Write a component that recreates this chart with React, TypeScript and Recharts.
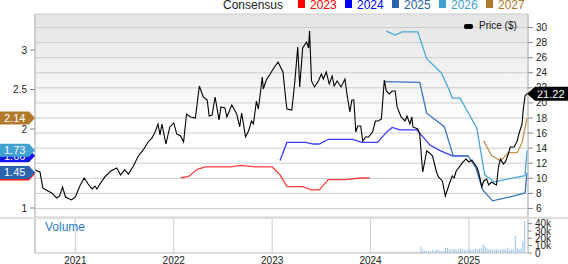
import { Bar, CartesianGrid, ComposedChart, Line, ReferenceDot, XAxis, YAxis } from "recharts";

const FONT = '"Liberation Sans", Arial, sans-serif';
const GRID = "#cccccc";
const AXIS = "#bbbbbb";

const YEARS = [2021, 2022, 2023, 2024, 2025];
const X_DOMAIN: [number, number] = [2020.59, 2025.6];
const EPS_DOMAIN: [number, number] = [0.886, 3.456];
const PRICE_DOMAIN: [number, number] = [4.87, 31.79];
const EPS_TICKS = [1, 2, 2.5, 3];
const PRICE_TICKS = [6, 8, 10, 12, 14, 16, 18, 20, 22, 24, 26, 28, 30];
const VOL_TICKS = [0, 10, 20, 30, 40];

// weekly close, decimal years
const PRICE_T = [
  2020.59, 2020.64, 2020.67, 2020.72, 2020.76, 2020.81, 2020.84, 2020.87, 2020.9, 2020.96,
  2021.0, 2021.05, 2021.09, 2021.13, 2021.17, 2021.2, 2021.22, 2021.25, 2021.3, 2021.36,
  2021.42, 2021.46, 2021.5, 2021.54, 2021.59, 2021.64, 2021.69, 2021.74, 2021.78, 2021.81,
  2021.84, 2021.86, 2021.88, 2021.92, 2021.96, 2022.0, 2022.03, 2022.07, 2022.1, 2022.13,
  2022.17, 2022.22, 2022.26, 2022.3, 2022.34, 2022.36, 2022.39, 2022.42, 2022.46, 2022.48,
  2022.52, 2022.54, 2022.59, 2022.64, 2022.67, 2022.69, 2022.73, 2022.76, 2022.79, 2022.81,
  2022.84, 2022.86, 2022.9, 2022.91, 2022.94, 2022.98, 2023.01, 2023.06, 2023.11, 2023.14,
  2023.15, 2023.2, 2023.23, 2023.26, 2023.28, 2023.31, 2023.35, 2023.37, 2023.38, 2023.4,
  2023.43, 2023.47, 2023.5, 2023.52, 2023.55, 2023.58, 2023.61, 2023.63, 2023.66, 2023.7,
  2023.74, 2023.76, 2023.79, 2023.81, 2023.83, 2023.85, 2023.87, 2023.9, 2023.92, 2023.95,
  2023.98, 2024.02, 2024.05, 2024.08, 2024.11, 2024.14, 2024.16, 2024.19, 2024.22, 2024.25,
  2024.27, 2024.31, 2024.35, 2024.37, 2024.4, 2024.42, 2024.43, 2024.48, 2024.5, 2024.52,
  2024.53, 2024.55, 2024.57, 2024.6, 2024.63, 2024.67, 2024.69, 2024.73, 2024.76, 2024.8,
  2024.83, 2024.85, 2024.87, 2024.91, 2024.94, 2024.97, 2025.0, 2025.03, 2025.05, 2025.08,
  2025.1, 2025.13, 2025.15, 2025.18, 2025.2, 2025.23, 2025.26, 2025.28, 2025.3, 2025.32,
  2025.35, 2025.37, 2025.4, 2025.42, 2025.46, 2025.49, 2025.51, 2025.54, 2025.55, 2025.57,
  2025.59,
];
const PRICE = [
  11.11, 10.84, 8.72, 8.32, 8.06, 7.39, 7.66, 8.85, 7.52, 7.13,
  7.52, 9.12, 10.04, 9.25, 8.59, 8.98, 8.59, 9.25, 10.18, 10.97,
  11.37, 10.44, 11.11, 10.57, 11.64, 12.96, 13.76, 14.82, 15.35, 16.14,
  17.2, 15.75, 17.2, 14.55, 16.81, 17.34, 15.88, 15.61, 14.82, 18.53,
  18.13, 18.0, 22.24, 20.78, 20.39, 18.27, 18.4, 20.78, 17.74, 19.46,
  19.33, 18.13, 19.72, 18.53, 16.81, 18.66, 15.48, 16.28, 17.6, 17.2,
  20.25, 19.19, 23.44, 21.85, 23.04, 23.83, 24.5, 25.43, 24.1, 20.25,
  19.19, 19.06, 22.77, 27.41, 22.11, 27.28, 28.08, 27.28, 29.54, 22.91,
  22.11, 22.91, 23.83, 23.17, 24.1, 22.51, 23.57, 22.24, 22.91, 22.11,
  23.17, 21.18, 18.8, 20.39, 20.39, 16.14, 16.94, 16.94, 14.95, 15.48,
  15.48, 16.14, 17.6, 17.6, 17.87, 23.04, 21.58, 21.18, 21.58, 21.58,
  19.46, 18.13, 17.6, 18.27, 17.2, 18.13, 16.81, 16.54, 15.88, 12.3,
  10.84, 12.17, 13.62, 13.36, 12.96, 10.84, 10.18, 9.65, 7.66, 9.25,
  10.31, 10.04, 10.97, 11.64, 12.17, 12.56, 12.17, 12.43, 12.03, 11.5,
  10.71, 8.85, 9.65, 9.91, 9.12, 9.51, 9.25, 9.12, 11.5, 12.56,
  11.9, 12.17, 13.23, 14.15, 14.15, 14.95, 16.01, 17.2, 18.93, 20.92,
  21.22,
];
const LAST_PRICE = 21.22;

// consensus EPS by fiscal year
const C2023_T = [2022.07, 2022.15, 2022.24, 2022.32, 2022.58, 2022.68, 2022.83, 2023.0, 2023.08, 2023.15, 2023.31, 2023.4, 2023.48, 2023.57, 2023.74, 2023.9, 2023.99];
const C2023 = [1.38, 1.4, 1.49, 1.52, 1.52, 1.54, 1.52, 1.52, 1.42, 1.27, 1.27, 1.23, 1.23, 1.36, 1.36, 1.38, 1.38];
const C2024_T = [2023.08, 2023.15, 2023.34, 2023.42, 2023.48, 2023.57, 2023.82, 2023.91, 2024.07, 2024.17, 2024.22, 2024.3, 2024.47, 2024.52, 2024.6, 2024.7, 2024.83, 2024.99];
const C2024 = [1.6, 1.83, 1.83, 1.81, 1.81, 1.87, 1.87, 1.83, 1.83, 1.97, 2.02, 1.99, 1.99, 1.92, 1.8, 1.73, 1.66, 1.66];
const C2025_T = [2024.14, 2024.5, 2024.57, 2024.75, 2024.84, 2024.99, 2025.07, 2025.14, 2025.24, 2025.45, 2025.57, 2025.59];
const C2025 = [2.6, 2.59, 2.2, 2.03, 1.66, 1.66, 1.51, 1.23, 1.09, 1.15, 1.19, 1.45];
const C2026_T = [2024.16, 2024.25, 2024.32, 2024.48, 2024.57, 2024.72, 2024.8, 2024.83, 2024.91, 2025.08, 2025.16, 2025.26, 2025.45, 2025.57, 2025.59];
const C2026 = [3.24, 3.19, 3.23, 3.23, 2.89, 2.71, 2.49, 2.39, 2.39, 2.01, 1.42, 1.33, 1.38, 1.41, 1.73];
const C2027_T = [2025.15, 2025.23, 2025.32, 2025.4, 2025.49, 2025.54, 2025.59];
const C2027 = [1.85, 1.66, 1.6, 1.7, 1.7, 1.83, 2.14];

// weekly volume (thousands) from the start of 2024
const VOL_START = 2024.0;
const WEEK = 7 / 365.25;
const VOL = [
  1.2, 1.0, 1.4, 1.1, 1.3, 1.5, 1.0, 1.2, 1.3, 1.6, 1.1, 1.0, 1.2, 1.4, 1.2, 1.0, 1.5, 1.3, 1.1, 1.0,
  1.4, 1.2, 1.0, 1.3, 1.6, 1.2, 1.5, 8.2, 3.7, 4.0, 2.5, 3.0, 2.0, 4.2, 3.0, 4.6, 4.5, 3.0, 3.2, 2.5,
  7.3, 7.0, 5.0, 4.0, 5.5, 5.0, 4.2, 5.0, 6.0, 5.0, 4.0, 3.5, 4.0, 5.0, 4.5, 5.0, 6.0, 4.5, 5.5, 6.5,
  11.8, 9.0, 6.0, 5.0, 5.0, 4.0, 4.5, 5.0, 4.0, 4.5, 5.0, 6.0, 4.5, 7.0, 4.0, 4.5, 4.5, 23.0, 6.8, 5.0,
  6.0, 16.0, 43.5,
];

const SERIES = [
  { name: "2023", color: "#ff0000", line: "#ff3c3c", t: C2023_T, v: C2023 },
  { name: "2024", color: "#0000ff", line: "#3a3aff", t: C2024_T, v: C2024 },
  { name: "2025", color: "#2a64ad", line: "#3574c2", t: C2025_T, v: C2025 },
  { name: "2026", color: "#3fa0d2", line: "#48a8da", t: C2026_T, v: C2026 },
  { name: "2027", color: "#b07a2a", line: "#c4914c", t: C2027_T, v: C2027 },
];

// current consensus tags on the left axis (painted in this order)
const EPS_TAGS = [
  { v: 1.66, color: "#1414f0" },
  { v: 1.73, color: "#3fa0d2" },
  { v: 1.43, color: "#ff1a1a" },
  { v: 1.45, color: "#2a64ad" },
  { v: 2.14, color: "#b07a2a" },
];

const priceData = PRICE_T.map((t, i) => ({ t, v: PRICE[i] }));
const seriesData = SERIES.map((s) => ({ ...s, data: s.t.map((t, i) => ({ t, v: s.v[i] })) }));
const volData = VOL.map((v, i) => ({ t: VOL_START + i * WEEK, v }));

function EpsTag(props: any) {
  const { cx, cy, color, text } = props;
  const h = 6.5;
  return (
    <g>
      <polygon
        points={`${cx - 35},${cy - h} ${cx - 6},${cy - h} ${cx},${cy} ${cx - 6},${cy + h} ${cx - 35},${cy + h}`}
        fill={color}
      />
      <text x={cx - 31} y={cy} dy="0.36em" fontSize={11} fill="#fff">
        {text}
      </text>
    </g>
  );
}

function PriceTag(props: any) {
  const { cx, cy } = props;
  return (
    <g>
      <polygon
        points={`${cx - 1},${cy} ${cx + 7},${cy - 7} ${cx + 41},${cy - 7} ${cx + 41},${cy + 7} ${cx + 7},${cy + 7}`}
        fill="#000"
      />
      <text x={cx + 9} y={cy} dy="0.36em" fontSize={11} fill="#fff">
        {LAST_PRICE.toFixed(2)}
      </text>
    </g>
  );
}

export default function App() {
  const tick = { fontSize: 10, fill: "#222" };
  return (
    <div style={{ position: "absolute", left: 0, top: 0, width: 568, height: 264, overflow: "hidden", fontFamily: FONT, background: "#fff" }}>
      <div
        style={{
          position: "absolute",
          left: 35,
          top: 14,
          width: 493,
          height: 203,
          background: "linear-gradient(#e4e4e4 0%, #ffffff 55%)",
        }}
      />
      <div style={{ position: "absolute", left: 0, top: 0 }}>
        <ComposedChart width={568} height={217} margin={{ top: 14, right: 0, bottom: 0, left: 0 }}>
          <XAxis
            type="number"
            dataKey="t"
            orientation="top"
            domain={X_DOMAIN}
            ticks={YEARS}
            interval={0}
            allowDataOverflow
            height={0}
            tick={false}
            tickLine={false}
            axisLine={{ stroke: AXIS }}
          />
          <YAxis
            yAxisId="eps"
            orientation="left"
            width={35}
            domain={EPS_DOMAIN}
            ticks={EPS_TICKS}
            interval={0}
            allowDataOverflow
            tickSize={5}
            tickMargin={3}
            tick={tick}
            axisLine={{ stroke: AXIS }}
            tickLine={{ stroke: "#888" }}
          />
          <YAxis
            yAxisId="price"
            orientation="right"
            width={40}
            domain={PRICE_DOMAIN}
            ticks={PRICE_TICKS}
            interval={0}
            allowDataOverflow
            tickSize={5}
            tickMargin={3}
            tick={tick}
            axisLine={{ stroke: AXIS }}
            tickLine={{ stroke: "#888" }}
          />
          <CartesianGrid yAxisId="price" stroke={GRID} />
          {seriesData.map((s) => (
            <Line
              key={s.name}
              yAxisId="eps"
              data={s.data}
              dataKey="v"
              stroke={s.line}
              strokeWidth={1.3}
              dot={false}
              activeDot={false}
              isAnimationActive={false}
            />
          ))}
          <Line
            yAxisId="price"
            data={priceData}
            dataKey="v"
            stroke="#000"
            strokeWidth={1.1}
            dot={false}
            activeDot={false}
            isAnimationActive={false}
          />
          {EPS_TAGS.map((f) => (
            <ReferenceDot
              key={f.color}
              yAxisId="eps"
              x={X_DOMAIN[0]}
              y={f.v}
              r={0}
              shape={(p: any) => <EpsTag {...p} color={f.color} text={f.v.toFixed(2)} />}
            />
          ))}
          <ReferenceDot yAxisId="price" x={X_DOMAIN[1]} y={LAST_PRICE} r={0} shape={(p: any) => <PriceTag {...p} />} />
        </ComposedChart>
        <div style={{ height: 2, background: "#dddddd" }} />
        <ComposedChart width={568} height={45} data={volData} margin={{ top: 0, right: 0, bottom: 0, left: 0 }}>
          <XAxis
            type="number"
            dataKey="t"
            domain={X_DOMAIN}
            ticks={YEARS}
            interval={0}
            allowDataOverflow
            height={11}
            tickSize={0}
            tickMargin={4}
            tickLine={false}
            tick={tick}
            axisLine={{ stroke: AXIS }}
          />
          <YAxis yAxisId="l" orientation="left" width={35} domain={[0, 1]} tick={false} tickLine={false} axisLine={{ stroke: AXIS }} />
          <YAxis
            yAxisId="vol"
            orientation="right"
            width={40}
            domain={[0, 46.3]}
            ticks={VOL_TICKS}
            interval={0}
            allowDataOverflow
            tickSize={4}
            tickMargin={3}
            tick={tick}
            tickFormatter={(v: number) => (v === 0 ? "0" : `${v}k`)}
            axisLine={{ stroke: AXIS }}
            tickLine={{ stroke: "#888" }}
          />
          <CartesianGrid yAxisId="vol" horizontal={false} stroke={GRID} />
          <Bar yAxisId="vol" dataKey="v" barSize={1} fill="#94c2ea" isAnimationActive={false} />
        </ComposedChart>
      </div>

      <div style={{ position: "absolute", left: 223, top: -1, fontSize: 12, lineHeight: "12px", color: "#222" }}>Consensus</div>
      {SERIES.map((s, i) => (
        <div key={s.name}>
          <div style={{ position: "absolute", left: 298 + i * 47, top: 0, width: 7, height: 8, background: s.color }} />
          <div style={{ position: "absolute", left: 310 + i * 47, top: -1, fontSize: 12, lineHeight: "12px", color: s.color }}>
            {s.name}
          </div>
        </div>
      ))}

      <div style={{ position: "absolute", left: 464, top: 24, width: 9, height: 5, borderRadius: 2, background: "#000" }} />
      <div style={{ position: "absolute", left: 479, top: 20, fontSize: 10, lineHeight: "12px", color: "#111" }}>Price ($)</div>

      <div style={{ position: "absolute", left: 45, top: 221, fontSize: 12, lineHeight: "12px", color: "#2a7bc4" }}>Volume</div>
    </div>
  );
}
